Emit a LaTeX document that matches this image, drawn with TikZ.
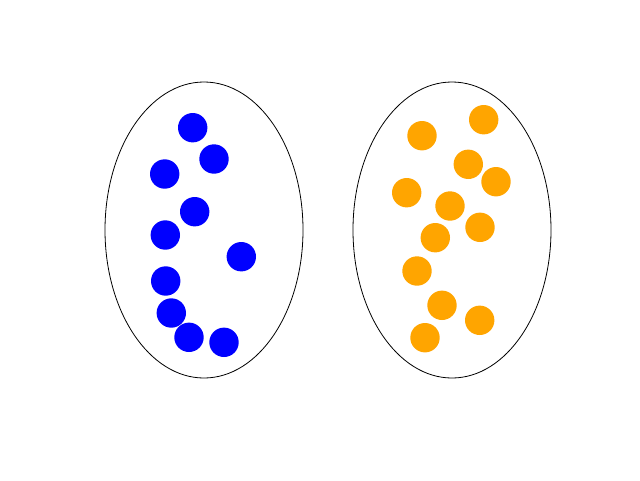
\documentclass[tikz,border=0pt]{standalone}
\definecolor{dotblue}{RGB}{0,0,255}
\definecolor{dotorange}{RGB}{255,165,0}
\tikzset{
  setline/.style={draw=black, line width=0.8pt},
  bdot/.style={fill=dotblue},
  odot/.style={fill=dotorange}
}
\begin{document}
\begin{tikzpicture}[x=1pt,y=-1pt]
\useasboundingbox (0,0) rectangle (640,480);
\fill[white] (0,0) rectangle (640,480);
\draw[setline] (204,230) ellipse [x radius=99, y radius=148];
\draw[setline] (452,230) ellipse [x radius=99, y radius=148];
\foreach \x/\y in {192.7/127.7, 214/159, 164.7/174, 194.7/211.7, 165.3/235, 241.3/256.7, 165.7/281, 171.3/313, 189/337.3, 224/342.3}
  \fill[bdot] (\x,\y) circle (14.7);
\foreach \x/\y in {422/135.7, 483.7/119.7, 468.3/164.3, 496/181.7, 406.7/192.7, 450/206, 480/227.3, 435.3/237.7, 417/271, 442/305.3, 479.7/320.3, 425/337.7}
  \fill[odot] (\x,\y) circle (14.7);
\end{tikzpicture}
\end{document}
